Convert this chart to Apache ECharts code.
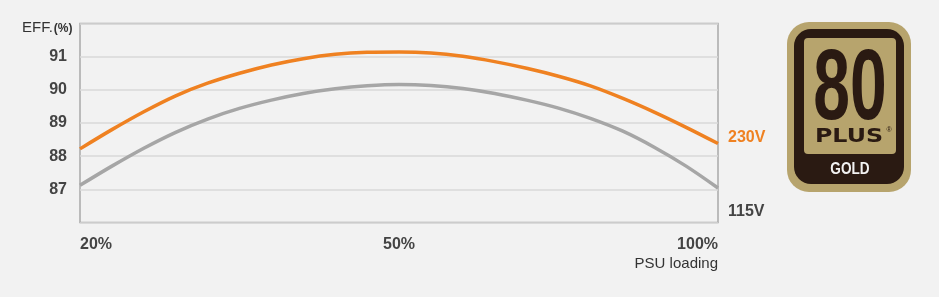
<!DOCTYPE html>
<html>
<head>
<meta charset="utf-8">
<script src="https://cdn.jsdelivr.net/npm/echarts@6/dist/echarts.min.js"></script>
<style>
html,body{margin:0;padding:0;background:#f2f2f2;}
#c{width:939px;height:297px;}
</style>
</head>
<body>
<div id="c"></div>
<script>
// Position along the x axis (0 = 20% load, 50 = 50% load, 100 = 100% load)
const loadPos = [0, 5, 10, 15, 20, 25, 30, 35, 40, 45, 50, 55, 60, 65, 70, 75, 80, 85, 90, 95, 100];
const eff230 = [88.22, 88.80, 89.34, 89.82, 90.20, 90.50, 90.75, 90.94, 91.07, 91.13, 91.14, 91.11, 91.01, 90.85, 90.65, 90.41, 90.12, 89.75, 89.33, 88.87, 88.38];
const eff115 = [87.12, 87.70, 88.24, 88.72, 89.12, 89.44, 89.69, 89.89, 90.03, 90.12, 90.16, 90.13, 90.04, 89.89, 89.69, 89.45, 89.14, 88.76, 88.27, 87.70, 87.04];
const xTickLabels = {0: '20%', 50: '50%', 100: '100%'};
const seriesNames = ['230V', '115V'];

const chart = echarts.init(document.getElementById('c'), null, {renderer: 'canvas'});
const font = 'Liberation Sans, Arial, sans-serif';
const gold = '#b7a46d';
const dark = '#2a1a12';

chart.setOption({
  backgroundColor: '#f2f2f2',
  animation: false,
  grid: {left: 80, right: 221, top: 23.5, bottom: 74.5, show: true, borderColor: '#a9a9a9', borderWidth: 1.5, backgroundColor: 'transparent'},
  xAxis: {
    type: 'value', min: 0, max: 100, interval: 50,
    axisLine: {show: false}, axisTick: {show: false}, splitLine: {show: false},
    axisLabel: {
      formatter: v => xTickLabels[v] || '',
      color: '#444', fontFamily: font, fontWeight: 'bold', fontSize: 16, margin: 14,
      alignMinLabel: 'left', alignMaxLabel: 'right'
    }
  },
  yAxis: {
    type: 'value', min: 86, max: 92, interval: 1,
    axisLine: {show: false}, axisTick: {show: false},
    splitLine: {lineStyle: {color: '#d8d8d8', width: 1.5}},
    axisLabel: {showMinLabel: false, showMaxLabel: false, color: '#444', fontFamily: font, fontWeight: 'bold', fontSize: 16, margin: 13}
  },
  series: [
    {
      name: seriesNames[0], type: 'line', smooth: 0.33, symbol: 'none',
      data: loadPos.map((x, i) => [x, eff230[i]]),
      lineStyle: {color: '#ef8121', width: 3.5},
      endLabel: {show: true, formatter: '{a}', color: '#ef8121', fontFamily: font, fontWeight: 'bold', fontSize: 16, offset: [2, -6]}
    },
    {
      name: seriesNames[1], type: 'line', smooth: 0.33, symbol: 'none',
      data: loadPos.map((x, i) => [x, eff115[i]]),
      lineStyle: {color: '#a6a6a6', width: 3.5},
      endLabel: {show: true, formatter: '{a}', color: '#444', fontFamily: font, fontWeight: 'bold', fontSize: 16, offset: [2, 24]}
    }
  ],
  graphic: [
    {type: 'text', left: 22, top: 20, style: {
      text: '{a|EFF.}{b|(%)}',
      rich: {a: {fontFamily: font, fontSize: 15, fill: '#333'}, b: {fontFamily: font, fontSize: 12, fill: '#333', fontWeight: 'bold', padding: [2, 0, 0, 1]}}
    }},
    {type: 'text', x: 718, y: 256, style: {text: 'PSU loading', fontFamily: font, fontSize: 15, fill: '#333', align: 'right'}},
    // 80 PLUS GOLD badge
    {type: 'rect', shape: {x: 787, y: 22, width: 124, height: 170, r: 22}, style: {fill: gold}},
    {type: 'rect', shape: {x: 794, y: 29, width: 110, height: 155, r: 17}, style: {fill: dark}},
    {type: 'rect', shape: {x: 804, y: 38, width: 92, height: 116, r: 4}, style: {fill: gold}},
    {type: 'text', x: 850, y: 91, scaleX: 0.66, style: {text: '80', fontFamily: 'Liberation Sans Narrow, Liberation Sans, Arial', fontWeight: 'bold', fontSize: 100, fill: dark, align: 'center', verticalAlign: 'middle'}},
    {type: 'text', x: 849, y: 137, scaleX: 1.25, style: {text: 'PLUS', fontFamily: 'DejaVu Sans, Arial', fontWeight: 'bold', fontSize: 19, fill: dark, align: 'center', verticalAlign: 'middle'}},
    {type: 'text', x: 889, y: 130, style: {text: '®', fontFamily: font, fontSize: 7, fill: dark, align: 'center', verticalAlign: 'middle'}},
    {type: 'text', x: 850, y: 169, scaleX: 0.8, style: {text: 'GOLD', fontFamily: font, fontWeight: 'bold', fontSize: 17, fill: '#f2f2f2', align: 'center', verticalAlign: 'middle'}}
  ]
});
</script>
</body>
</html>
